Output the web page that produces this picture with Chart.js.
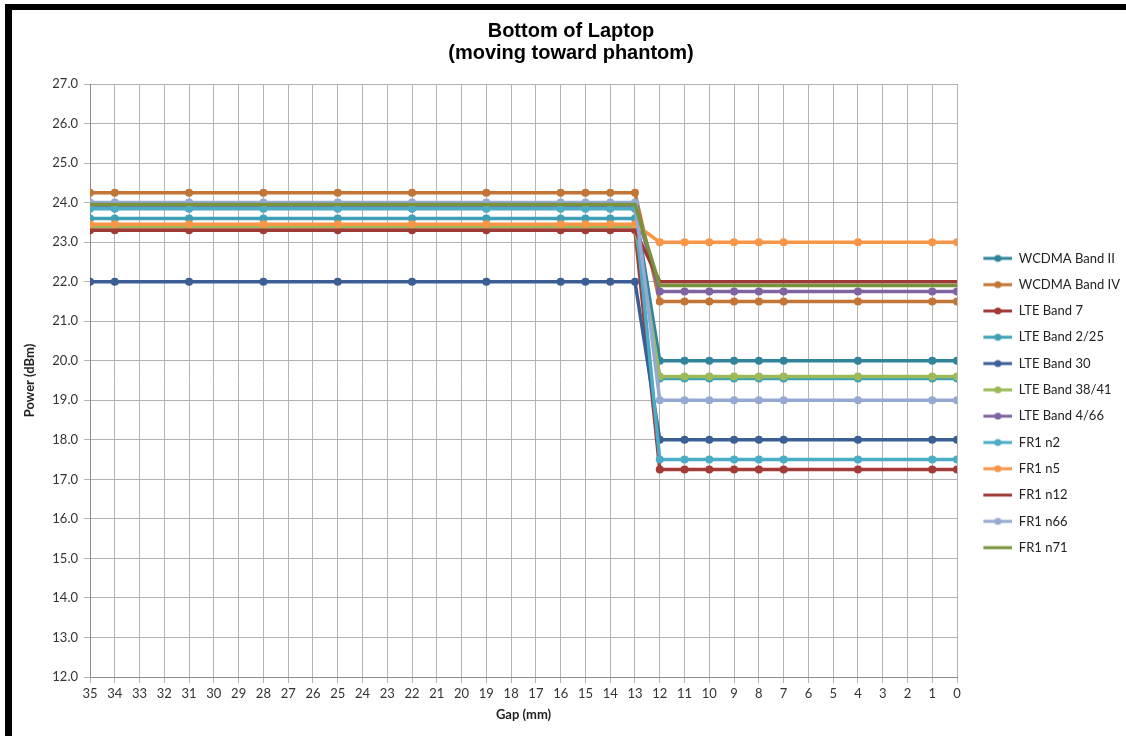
<!DOCTYPE html>
<html>
<head>
<meta charset="utf-8">
<script src="https://cdn.jsdelivr.net/npm/chart.js@4.4.0/dist/chart.umd.min.js"></script>
<style>
  html, body { margin: 0; padding: 0; background: #fff; }
  #wrap { position: relative; width: 1126px; height: 736px; overflow: hidden; }
  #frame { position: absolute; left: 5px; top: 4px; width: 1130px; height: 740px;
           border-left: 7px solid #000; border-top: 6px solid #000; pointer-events: none; }
</style>
</head>
<body>
<div id="wrap">
  <canvas id="gapChart" width="1126" height="736"></canvas>
  <div id="frame"></div>
</div>
<script>
// Gap positions (mm) where measurements were taken
const gaps = [35, 34, 31, 28, 25, 22, 19, 16, 15, 14, 13, 12, 11, 10, 9, 8, 7, 4, 1, 0];

const seriesNames = [
  "WCDMA Band II", "WCDMA Band IV", "LTE Band 7", "LTE Band 2/25", "LTE Band 30",
  "LTE Band 38/41", "LTE Band 4/66", "FR1 n2", "FR1 n5", "FR1 n12", "FR1 n66", "FR1 n71"
];

const wcdmaBandII  = [23.85, 23.85, 23.85, 23.85, 23.85, 23.85, 23.85, 23.85, 23.85, 23.85, 23.85, 20.0, 20.0, 20.0, 20.0, 20.0, 20.0, 20.0, 20.0, 20.0];
const wcdmaBandIV  = [24.25, 24.25, 24.25, 24.25, 24.25, 24.25, 24.25, 24.25, 24.25, 24.25, 24.25, 21.5, 21.5, 21.5, 21.5, 21.5, 21.5, 21.5, 21.5, 21.5];
const lteBand7     = [23.3, 23.3, 23.3, 23.3, 23.3, 23.3, 23.3, 23.3, 23.3, 23.3, 23.3, 17.25, 17.25, 17.25, 17.25, 17.25, 17.25, 17.25, 17.25, 17.25];
const lteBand2_25  = [23.6, 23.6, 23.6, 23.6, 23.6, 23.6, 23.6, 23.6, 23.6, 23.6, 23.6, 19.55, 19.55, 19.55, 19.55, 19.55, 19.55, 19.55, 19.55, 19.55];
const lteBand30    = [22.0, 22.0, 22.0, 22.0, 22.0, 22.0, 22.0, 22.0, 22.0, 22.0, 22.0, 18.0, 18.0, 18.0, 18.0, 18.0, 18.0, 18.0, 18.0, 18.0];
const lteBand38_41 = [23.4, 23.4, 23.4, 23.4, 23.4, 23.4, 23.4, 23.4, 23.4, 23.4, 23.4, 19.6, 19.6, 19.6, 19.6, 19.6, 19.6, 19.6, 19.6, 19.6];
const lteBand4_66  = [23.9, 23.9, 23.9, 23.9, 23.9, 23.9, 23.9, 23.9, 23.9, 23.9, 23.9, 21.75, 21.75, 21.75, 21.75, 21.75, 21.75, 21.75, 21.75, 21.75];
const fr1n2        = [23.85, 23.85, 23.85, 23.85, 23.85, 23.85, 23.85, 23.85, 23.85, 23.85, 23.85, 17.5, 17.5, 17.5, 17.5, 17.5, 17.5, 17.5, 17.5, 17.5];
const fr1n5        = [23.45, 23.45, 23.45, 23.45, 23.45, 23.45, 23.45, 23.45, 23.45, 23.45, 23.45, 23.0, 23.0, 23.0, 23.0, 23.0, 23.0, 23.0, 23.0, 23.0];
const fr1n12       = [23.3, 23.3, 23.3, 23.3, 23.3, 23.3, 23.3, 23.3, 23.3, 23.3, 23.3, 22.0, 22.0, 22.0, 22.0, 22.0, 22.0, 22.0, 22.0, 22.0];
const fr1n66       = [24.0, 24.0, 24.0, 24.0, 24.0, 24.0, 24.0, 24.0, 24.0, 24.0, 24.0, 19.0, 19.0, 19.0, 19.0, 19.0, 19.0, 19.0, 19.0, 19.0];
const fr1n71       = [23.95, 23.95, 23.95, 23.95, 23.95, 23.95, 23.95, 23.95, 23.95, 23.95, 23.95, 21.9, 21.9, 21.9, 21.9, 21.9, 21.9, 21.9, 21.9, 21.9];

const seriesValues = [wcdmaBandII, wcdmaBandIV, lteBand7, lteBand2_25, lteBand30,
  lteBand38_41, lteBand4_66, fr1n2, fr1n5, fr1n12, fr1n66, fr1n71];

const colors = ["#31849b", "#c27535", "#a33b36", "#3fa0b5", "#3b5e95", "#9bbb59",
  "#8064a2", "#4bacc6", "#f79646", "#9e3b37", "#95a9d3", "#77933c"];
const hasMarkers = [true, true, true, true, true, true, true, true, true, false, true, false];

// legend icon: line with a dot, left part of the canvas left empty as spacing
function legendIcon(color, dot) {
  const c = document.createElement("canvas");
  c.width = 42; c.height = 10;
  const g = c.getContext("2d");
  g.strokeStyle = color; g.lineWidth = 3;
  g.beginPath(); g.moveTo(13, 5); g.lineTo(42, 5); g.stroke();
  if (dot) {
    g.fillStyle = color;
    g.beginPath(); g.arc(27.5, 5, 3.5, 0, Math.PI * 2); g.fill();
  }
  return c;
}

const datasets = seriesNames.map((name, i) => ({
  label: name,
  data: gaps.map((g, j) => ({ x: g, y: seriesValues[i][j] })),
  borderColor: colors[i],
  backgroundColor: colors[i],
  borderWidth: 3.5,
  pointRadius: hasMarkers[i] ? 4 : 0,
  pointBorderWidth: 0,
  tension: 0,
  order: seriesNames.length - i,
  icon: legendIcon(colors[i], hasMarkers[i]),
}));

const font = "Lato, 'Open Sans', sans-serif";
const ctx = document.getElementById("gapChart").getContext("2d");

const gapChart = new Chart(ctx, {
  type: "line",
  data: { datasets: datasets },
  options: {
    responsive: false,
    animation: false,
    layout: { padding: { left: 12, top: 12, right: -4, bottom: 6 } },
    plugins: {
      title: {
        display: true,
        text: ["Bottom of Laptop", "(moving toward phantom)"],
        color: "#000",
        font: { family: "'Liberation Sans', Arial, sans-serif", size: 20, weight: "bold", lineHeight: 1.1 },
        padding: { top: 8, bottom: 20 },
      },
      legend: {
        position: "right",
        title: { display: true, text: " ", color: "#fff", font: { size: 10 }, padding: { top: 52, bottom: 0 } },
        labels: {
          usePointStyle: true,
          pointStyleWidth: 42,
          padding: 13.3,
          color: "#222",
          font: { family: font, size: 13 },
          sort: (a, b) => a.datasetIndex - b.datasetIndex,
          generateLabels: (chart) =>
            chart.data.datasets.map((ds, i) => ({
              text: ds.label,
              pointStyle: ds.icon,
              fillStyle: ds.borderColor,
              strokeStyle: ds.borderColor,
              lineWidth: 0,
              fontColor: "#222",
              datasetIndex: i,
              hidden: false,
            })),
        },
      },
      tooltip: { enabled: false },
    },
    scales: {
      x: {
        type: "linear",
        reverse: true,
        min: 0,
        max: 35,
        afterFit: (scale) => { scale.height = 53; },
        ticks: { stepSize: 1, autoSkip: false, color: "#333", font: { family: font, size: 13 } },
        grid: { color: "#b3b3b3", lineWidth: 1, tickLength: 6 },
        border: { color: "#8c8c8c" },
        title: {
          display: true,
          text: "Gap (mm)",
          color: "#222",
          font: { family: font, size: 13, weight: "bold" },
          padding: { top: 7, bottom: 7 },
        },
      },
      y: {
        min: 12,
        max: 27,
        afterFit: (scale) => { scale.width = 78; },
        ticks: {
          stepSize: 1,
          color: "#333",
          padding: 6,
          font: { family: font, size: 13 },
          callback: (v) => v.toFixed(1),
        },
        grid: { color: "#b3b3b3", lineWidth: 1, tickLength: 6 },
        border: { color: "#8c8c8c" },
        title: {
          display: true,
          text: "Power (dBm)",
          color: "#222",
          font: { family: font, size: 13, weight: "bold" },
          padding: { top: 10, bottom: 0 },
        },
      },
    },
  },
});
</script>
</body>
</html>
